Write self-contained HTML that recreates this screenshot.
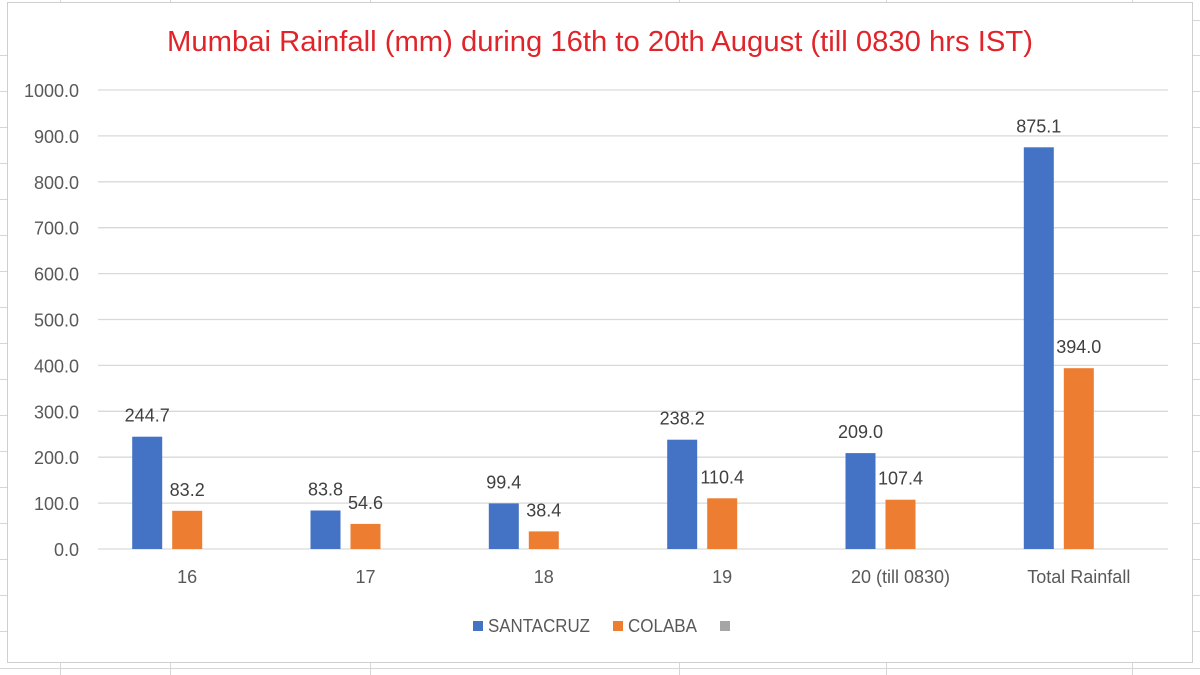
<!DOCTYPE html>
<html><head><meta charset="utf-8"><style>
html,body{margin:0;padding:0;background:#fff;}
svg{display:block;}
text{font-family:"Liberation Sans",Arial,sans-serif;}
</style></head><body>
<svg width="1200" height="675" viewBox="0 0 1200 675" xmlns="http://www.w3.org/2000/svg">
<rect width="1200" height="675" fill="#fff"/>
<!-- spreadsheet background grid -->
<g stroke="#d6d6d6" stroke-width="1">
<path d="M0 55.5H7M0 91.5H7M0 127.5H7M0 163.5H7M0 199.5H7M0 235.5H7M0 271.5H7M0 307.5H7M0 343.5H7M0 379.5H7M0 415.5H7M0 451.5H7M0 487.5H7M0 523.5H7M0 559.5H7M0 595.5H7M0 631.5H7M0 668.5H1200"/>
<path d="M1193 20.5H1200M1193 55.5H1200M1193 91.5H1200M1193 127.5H1200M1193 163.5H1200M1193 199.5H1200M1193 235.5H1200M1193 271.5H1200M1193 307.5H1200M1193 343.5H1200M1193 379.5H1200M1193 415.5H1200M1193 451.5H1200M1193 487.5H1200M1193 523.5H1200M1193 559.5H1200M1193 595.5H1200M1193 631.5H1200"/>
<path d="M60.5 0V3M170.5 0V3M370.5 0V3M679.5 0V3M886.5 0V3M1132.5 0V3"/>
<path d="M60.5 663V675M170.5 663V675M370.5 663V675M679.5 663V675M886.5 663V675M1132.5 663V675"/>
</g>
<!-- chart frame -->
<rect x="7.5" y="2.5" width="1185" height="660" fill="#fff" stroke="#cfcfcf" stroke-width="1"/>
<!-- title -->
<text x="600" y="51" font-size="29" fill="#e0242a" text-anchor="middle" textLength="866" lengthAdjust="spacingAndGlyphs">Mumbai Rainfall (mm) during 16th to 20th August (till 0830 hrs IST)</text>
<!-- gridlines -->
<g stroke="#d9d9d9" stroke-width="1.3">
<line x1="98" x2="1168" y1="90" y2="90"/>
<line x1="98" x2="1168" y1="135.9" y2="135.9"/>
<line x1="98" x2="1168" y1="181.8" y2="181.8"/>
<line x1="98" x2="1168" y1="227.7" y2="227.7"/>
<line x1="98" x2="1168" y1="273.6" y2="273.6"/>
<line x1="98" x2="1168" y1="319.5" y2="319.5"/>
<line x1="98" x2="1168" y1="365.4" y2="365.4"/>
<line x1="98" x2="1168" y1="411.3" y2="411.3"/>
<line x1="98" x2="1168" y1="457.2" y2="457.2"/>
<line x1="98" x2="1168" y1="503.1" y2="503.1"/>
<line x1="98" x2="1168" y1="549" y2="549"/>
</g>
<!-- y labels -->
<g font-size="18" fill="#595959" text-anchor="end">
<text x="79" y="97">1000.0</text>
<text x="79" y="142.9">900.0</text>
<text x="79" y="188.8">800.0</text>
<text x="79" y="234.7">700.0</text>
<text x="79" y="280.6">600.0</text>
<text x="79" y="326.5">500.0</text>
<text x="79" y="372.4">400.0</text>
<text x="79" y="418.3">300.0</text>
<text x="79" y="464.2">200.0</text>
<text x="79" y="510.1">100.0</text>
<text x="79" y="556">0.0</text>
</g>
<!-- bars -->
<g fill="#4472c4">
<rect x="132.2" y="436.7" width="30" height="112.3"/>
<rect x="310.5" y="510.5" width="30" height="38.5"/>
<rect x="488.8" y="503.4" width="30" height="45.6"/>
<rect x="667.2" y="439.7" width="30" height="109.3"/>
<rect x="845.5" y="453.1" width="30" height="95.9"/>
<rect x="1023.8" y="147.3" width="30" height="401.7"/>
</g>
<g fill="#ed7d31">
<rect x="172.2" y="510.8" width="30" height="38.2"/>
<rect x="350.5" y="523.9" width="30" height="25.1"/>
<rect x="528.8" y="531.4" width="30" height="17.6"/>
<rect x="707.2" y="498.3" width="30" height="50.7"/>
<rect x="885.5" y="499.7" width="30" height="49.3"/>
<rect x="1063.8" y="368.2" width="30" height="180.8"/>
</g>
<!-- data labels -->
<g font-size="18" fill="#404040" text-anchor="middle">
<text x="147.2" y="421.7">244.7</text>
<text x="187.2" y="495.8">83.2</text>
<text x="325.5" y="495.5">83.8</text>
<text x="365.5" y="508.9">54.6</text>
<text x="503.8" y="488.4">99.4</text>
<text x="543.8" y="516.4">38.4</text>
<text x="682.2" y="424.7">238.2</text>
<text x="722.2" y="483.3">110.4</text>
<text x="860.5" y="438.1">209.0</text>
<text x="900.5" y="484.7">107.4</text>
<text x="1038.8" y="132.3">875.1</text>
<text x="1078.8" y="353.2">394.0</text>
</g>
<!-- category labels -->
<g font-size="18" fill="#595959" text-anchor="middle">
<text x="187.2" y="583">16</text>
<text x="365.5" y="583">17</text>
<text x="543.8" y="583">18</text>
<text x="722.2" y="583">19</text>
<text x="900.5" y="583">20 (till 0830)</text>
<text x="1078.8" y="583">Total Rainfall</text>
</g>
<!-- legend -->
<rect x="473" y="621" width="10" height="10" fill="#4472c4"/>
<text x="488" y="632" font-size="18" fill="#595959" textLength="102" lengthAdjust="spacingAndGlyphs">SANTACRUZ</text>
<rect x="613" y="621" width="10" height="10" fill="#ed7d31"/>
<text x="628" y="632" font-size="18" fill="#595959" textLength="69" lengthAdjust="spacingAndGlyphs">COLABA</text>
<rect x="720" y="621" width="10" height="10" fill="#a5a5a5"/>
</svg>
</body></html>
